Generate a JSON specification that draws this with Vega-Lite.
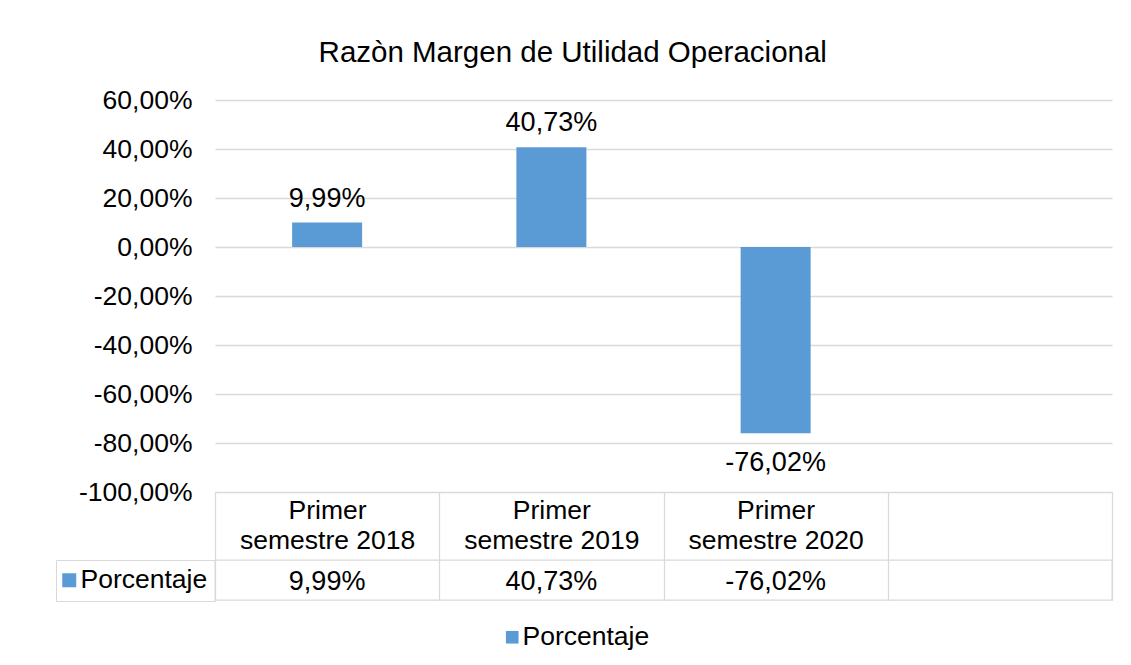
{
  "$schema": "https://vega.github.io/schema/vega-lite/v6.json",
  "background": "white",
  "padding": {"left": 54, "top": 37, "right": 10, "bottom": 10},
  "title": {
    "text": "Razòn Margen de Utilidad Operacional",
    "anchor": "middle",
    "frame": "bounds",
    "fontSize": 29.5,
    "fontWeight": "normal",
    "font": "Liberation Sans",
    "color": "#000000",
    "offset": 19,
    "dx": -11
  },
  "data": {
    "values": [
      {"periodo": "Primer semestre 2018", "serie": "Porcentaje", "valor": 0.0999},
      {"periodo": "Primer semestre 2019", "serie": "Porcentaje", "valor": 0.4073},
      {"periodo": "Primer semestre 2020", "serie": "Porcentaje", "valor": -0.7602}
    ]
  },
  "spacing": 68,
  "bounds": "flush",
  "resolve": {"scale": {"color": "independent", "x": "independent"}},
  "vconcat": [
    {
      "width": 897,
      "height": 392,
      "view": {"stroke": null},
      "layer": [
        {
          "mark": {"type": "bar", "width": 70},
          "encoding": {
            "x": {
              "field": "periodo",
              "type": "nominal",
              "sort": null,
              "scale": {"domain": ["Primer semestre 2018", "Primer semestre 2019", "Primer semestre 2020", ""], "paddingInner": 0, "paddingOuter": 0},
              "axis": {
                "title": null,
                "orient": "bottom",
                "domain": false,
                "ticks": true,
                "tickBand": "extent",
                "tickSize": 68,
                "labelPadding": -63,
                "labelAngle": 0,
                "labelBaseline": "top",
                "labelLineHeight": 30,
                "labelLimit": 0,
                "labelExpr": "[slice(datum.label, 0, 6), slice(datum.label, 7)]",
                "grid": false
              }
            },
            "y": {
              "field": "valor",
              "type": "quantitative",
              "scale": {"domain": [-1, 0.6], "nice": false},
              "axis": {
                "title": null,
                "values": [-1, -0.8, -0.6, -0.4, -0.2, 0, 0.2, 0.4, 0.6],
                "format": ".2%",
                "domain": false,
                "ticks": false,
                "labelPadding": 23,
                "grid": true
              }
            },
            "color": {
              "field": "serie",
              "type": "nominal",
              "scale": {"domain": ["Porcentaje"], "range": ["#5B9BD5"]},
              "legend": {
                "orient": "none",
                "legendX": 284,
                "legendY": 524,
                "title": null,
                "symbolType": "square",
                "symbolSize": 160,
                "symbolStrokeWidth": 0,
                "labelOffset": -3,
                "padding": 0
              }
            }
          }
        },
        {
          "transform": [{"filter": "datum.valor >= 0"}],
          "mark": {"type": "text", "baseline": "alphabetic", "dy": -16, "fontSize": 27},
          "encoding": {
            "x": {"field": "periodo", "type": "nominal"},
            "y": {"field": "valor", "type": "quantitative"},
            "text": {"field": "valor", "type": "quantitative", "format": ".2%"}
          }
        },
        {
          "transform": [{"filter": "datum.valor < 0"}],
          "mark": {"type": "text", "baseline": "top", "dy": 17, "fontSize": 27},
          "encoding": {
            "x": {"field": "periodo", "type": "nominal"},
            "y": {"field": "valor", "type": "quantitative"},
            "text": {"field": "valor", "type": "quantitative", "format": ".2%"}
          }
        }
      ]
    },
    {
      "width": 897,
      "height": 40,
      "view": {"stroke": "#D9D9D9", "strokeWidth": 1.3},
      "encoding": {
        "x": {
          "field": "periodo",
          "type": "nominal",
          "sort": null,
          "scale": {"domain": ["Primer semestre 2018", "Primer semestre 2019", "Primer semestre 2020", ""], "paddingInner": 0, "paddingOuter": 0},
          "axis": {"title": null, "labels": false, "ticks": false, "domain": false, "grid": true, "tickBand": "extent"}
        }
      },
      "layer": [
        {
          "mark": {"type": "bar", "opacity": 0},
          "encoding": {
            "color": {
              "field": "serie",
              "type": "nominal",
              "scale": {"domain": ["Porcentaje"], "range": ["#5B9BD5"]},
              "legend": {
                "orient": "left",
                "offset": 0,
                "title": null,
                "symbolType": "square",
                "symbolSize": 196,
                "symbolStrokeWidth": 0,
                "symbolOpacity": 1,
                "symbolOffset": -7,
                "labelOffset": -2,
                "padding": 7,
                "strokeColor": "#D9D9D9"
              }
            }
          }
        },
        {
          "mark": {"type": "text", "fontSize": 27, "baseline": "middle", "dy": 2},
          "encoding": {
            "text": {"field": "valor", "type": "quantitative", "format": ".2%"}
          }
        }
      ]
    }
  ],
  "config": {
    "font": "Liberation Sans",
    "locale": {"number": {"decimal": ",", "thousands": ".", "grouping": [3], "currency": ["", " €"], "minus": "-"}},
    "axis": {
      "labelFont": "Liberation Sans",
      "labelFontSize": 26.5,
      "labelColor": "#000000",
      "gridColor": "#D9D9D9",
      "gridWidth": 1.3,
      "tickColor": "#D9D9D9",
      "tickWidth": 1.3,
      "domainColor": "#D9D9D9"
    },
    "legend": {"labelFont": "Liberation Sans", "labelFontSize": 26.5, "labelColor": "#000000"},
    "text": {"font": "Liberation Sans", "color": "#000000"}
  }
}
